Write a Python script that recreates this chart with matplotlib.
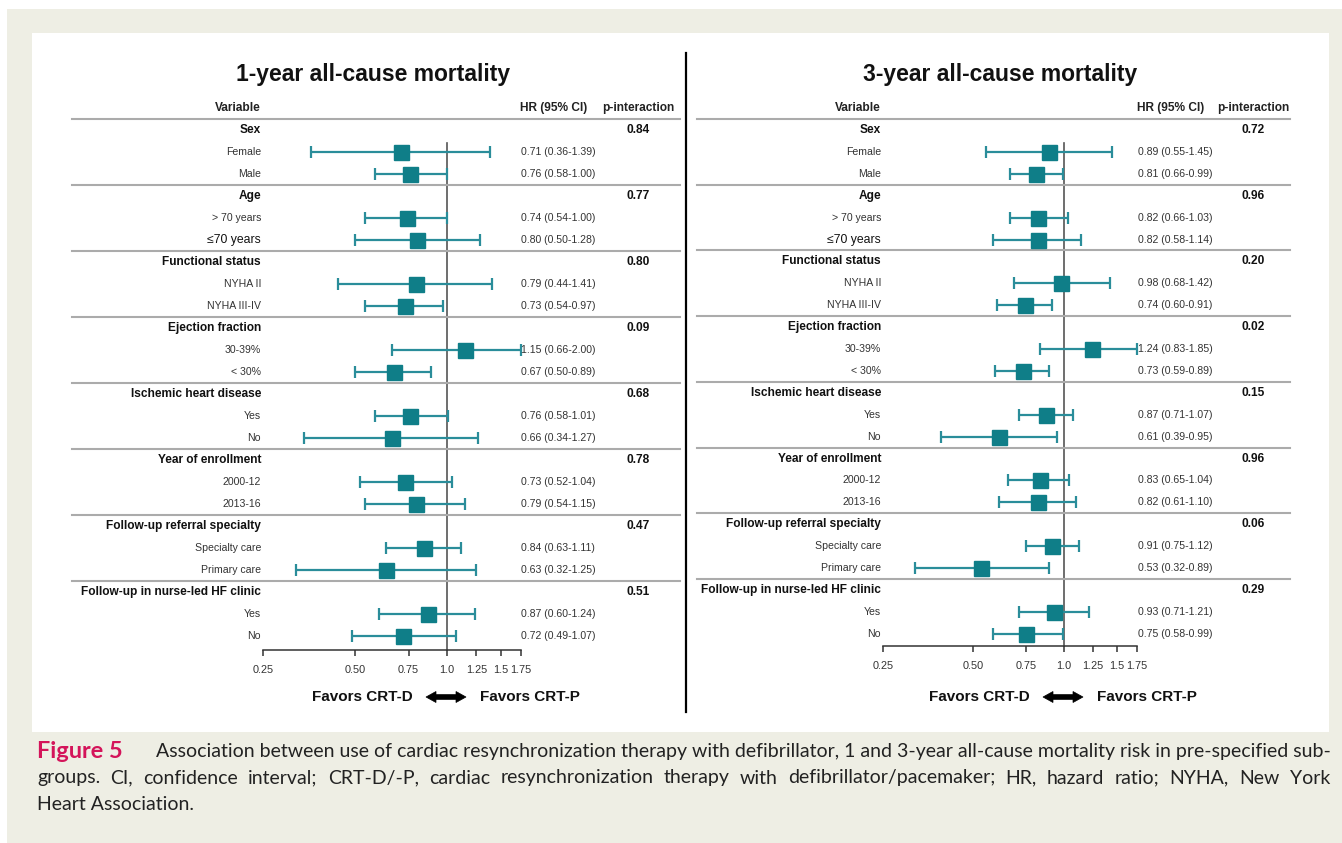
import matplotlib
matplotlib.use("Agg")
import matplotlib.pyplot as plt
import matplotlib.transforms as mtransforms
from matplotlib.patches import Rectangle, Polygon
from matplotlib.lines import Line2D
from matplotlib.ticker import NullLocator, FixedLocator, FixedFormatter

W, H = 1342, 843

# ---------------- data ----------------
groups = ["Sex", "Age", "Functional status", "Ejection fraction",
          "Ischemic heart disease", "Year of enrollment",
          "Follow-up referral specialty", "Follow-up in nurse-led HF clinic"]
subgroups = ["Female", "Male",
             "> 70 years", "\u226470 years",
             "NYHA II", "NYHA III-IV",
             "30-39%", "< 30%",
             "Yes", "No",
             "2000-12", "2013-16",
             "Specialty care", "Primary care",
             "Yes", "No"]

hr_1y = [0.71, 0.76, 0.74, 0.80, 0.79, 0.73, 1.15, 0.67,
         0.76, 0.66, 0.73, 0.79, 0.84, 0.63, 0.87, 0.72]
lo_1y = [0.36, 0.58, 0.54, 0.50, 0.44, 0.54, 0.66, 0.50,
         0.58, 0.34, 0.52, 0.54, 0.63, 0.32, 0.60, 0.49]
hi_1y = [1.39, 1.00, 1.00, 1.28, 1.41, 0.97, 2.00, 0.89,
         1.01, 1.27, 1.04, 1.15, 1.11, 1.25, 1.24, 1.07]
p_1y = ["0.84", "0.77", "0.80", "0.09", "0.68", "0.78", "0.47", "0.51"]

hr_3y = [0.89, 0.81, 0.82, 0.82, 0.98, 0.74, 1.24, 0.73,
         0.87, 0.61, 0.83, 0.82, 0.91, 0.53, 0.93, 0.75]
lo_3y = [0.55, 0.66, 0.66, 0.58, 0.68, 0.60, 0.83, 0.59,
         0.71, 0.39, 0.65, 0.61, 0.75, 0.32, 0.71, 0.58]
hi_3y = [1.45, 0.99, 1.03, 1.14, 1.42, 0.91, 1.85, 0.89,
         1.07, 0.95, 1.04, 1.10, 1.12, 0.89, 1.21, 0.99]
p_3y = ["0.72", "0.96", "0.20", "0.02", "0.15", "0.96", "0.06", "0.29"]

xticks = [0.25, 0.50, 0.75, 1.0, 1.25, 1.5, 1.75]
xtick_labels = ["0.25", "0.50", "0.75", "1.0", "1.25", "1.5", "1.75"]

caption_lead = "Figure 5"
caption_line1 = ("Association between use of cardiac resynchronization therapy with defibrillator, "
                 "1 and 3-year all-cause mortality risk in pre-specified sub-")
caption_line2 = ("groups. CI, confidence interval; CRT-D/-P, cardiac resynchronization therapy "
                 "with defibrillator/pacemaker; HR, hazard ratio; NYHA, New York")
caption_line3 = "Heart Association."

# ---------------- styles ----------------
FONT = ["Liberation Sans", "DejaVu Sans"]
CAPFONT = ["Lato", "DejaVu Sans"]
MARKER_C = "#0F7E88"
LINE_C = "#2A8D9A"
SEP_C = "#ABABAB"

plt.rcParams["font.family"] = FONT

fig = plt.figure(figsize=(13.42, 8.43), dpi=100)
fig.patch.set_facecolor("white")


def fx(px):
    return px / W


def fy(py):
    return 1 - py / H


# background frames
fig.patches.append(Rectangle((fx(7), 0), 1 - fx(7), fy(9), transform=fig.transFigure,
                             facecolor="#EEEEE4", edgecolor="none", zorder=-10))
fig.patches.append(Rectangle((fx(32), fy(732)), fx(1329) - fx(32), fy(33) - fy(732),
                             transform=fig.transFigure, facecolor="white",
                             edgecolor="none", zorder=-9))

# divider
fig.add_artist(Line2D([fx(686), fx(686)], [fy(53), fy(712)], transform=fig.transFigure,
                      color="black", lw=1.6))


def double_arrow(xc, yc, half_len=20, body=2.4, head_h=5.5, head_l=10):
    pts = [(-half_len, 0), (-half_len + head_l, head_h), (-half_len + head_l, body),
           (half_len - head_l, body), (half_len - head_l, head_h), (half_len, 0),
           (half_len - head_l, -head_h), (half_len - head_l, -body),
           (-half_len + head_l, -body), (-half_len + head_l, -head_h)]
    poly = Polygon([(fx(xc + px), fy(yc + py)) for px, py in pts], closed=True,
                   transform=fig.transFigure, facecolor="black", edgecolor="black",
                   lw=0.5)
    fig.add_artist(poly)


def panel(title, hr, lo, hi, pvals, c):
    top_px, bot_px = c["top"], c["bot"]
    row0, dy = c["row0"], c["dy"]
    ax = fig.add_axes([fx(c["x025"]), fy(bot_px), fx(c["x175"]) - fx(c["x025"]),
                       fy(top_px) - fy(bot_px)])
    ax.set_xscale("log")
    ax.set_xlim(0.25, 1.75)
    ax.set_ylim((bot_px - row0) / dy, (top_px - row0) / dy)
    ax.patch.set_alpha(0)
    for s in ["top", "right", "left"]:
        ax.spines[s].set_visible(False)
    ax.spines["bottom"].set_color("#333333")
    ax.spines["bottom"].set_linewidth(1.1)
    ax.xaxis.set_major_locator(FixedLocator(xticks))
    ax.xaxis.set_major_formatter(FixedFormatter(xtick_labels))
    ax.xaxis.set_minor_locator(NullLocator())
    ax.tick_params(axis="x", direction="out", length=4, width=1.1, color="#333333",
                   labelsize=7.8, labelcolor="#333333", pad=7)
    ax.set_yticks([])

    tr = mtransforms.blended_transform_factory(fig.transFigure, ax.transData)

    # reference line
    ax.plot([1.0, 1.0], [0.6, (bot_px - row0) / dy], color="#555555", lw=1.2,
            clip_on=False, zorder=1)

    # header
    ax.text(fx(c["label_x"]), -1, "Variable", transform=tr, ha="right", va="center",
            fontsize=8.6, fontweight="bold", color="#222222")
    ax.text(fx(c["hr_x"] - 1), -1, "HR (95% CI)", transform=tr, ha="left", va="center",
            fontsize=8.6, fontweight="bold", color="#222222")
    ax.text(fx(c["p_x"]), -1, "p-interaction", transform=tr, ha="center", va="center",
            fontsize=8.6, fontweight="bold", color="#222222")
    ax.add_line(Line2D([fx(c["l0"]), fx(c["l1"])], [-0.5, -0.5], transform=tr,
                       color=SEP_C, lw=1.5, clip_on=False))

    # title
    fig.text(fx(c["title_x"]), fy(74), title, ha="center", va="center",
             fontsize=16.5, fontweight="bold", color="#111111")

    for g, gname in enumerate(groups):
        yg = 3 * g
        ax.text(fx(c["label_x"]), yg, gname, transform=tr, ha="right", va="center",
                fontsize=8.6, fontweight="bold", color="#111111")
        ax.text(fx(c["p_x"]), yg, pvals[g], transform=tr, ha="center", va="center",
                fontsize=8.6, fontweight="bold", color="#111111")
        if g < len(groups) - 1:
            ax.add_line(Line2D([fx(c["l0"]), fx(c["l1"])], [yg + 2.5, yg + 2.5],
                               transform=tr, color=SEP_C, lw=1.5, clip_on=False))
        for k in range(2):
            i = 2 * g + k
            y = yg + 1 + k
            lab = subgroups[i]
            big = lab.startswith("\u2264")
            ax.text(fx(c["label_x"]), y, lab, transform=tr, ha="right", va="center",
                    fontsize=8.8 if big else 7.6, color="#111111" if big else "#333333")
            ax.text(fx(c["hr_x"]), y,
                    "%.2f (%.2f-%.2f)" % (hr[i], lo[i], hi[i]),
                    transform=tr, ha="left", va="center", fontsize=7.6, color="#333333")
            up = min(hi[i], 1.75)
            ax.errorbar([hr[i]], [y], xerr=[[hr[i] - lo[i]], [up - hr[i]]],
                        fmt="none", ecolor=LINE_C, elinewidth=1.6, capsize=4.3,
                        capthick=1.6, clip_on=False, zorder=2)
            ax.plot([hr[i]], [y], marker="s", markersize=10.8, color=MARKER_C,
                    markeredgecolor=MARKER_C, linestyle="none", clip_on=False, zorder=3)

    # favors
    x1 = c["x1"]
    fig.text(fx(x1 - 34), fy(697), "Favors CRT-D", ha="right", va="center",
             fontsize=11, fontweight="bold", color="#111111")
    fig.text(fx(x1 + 33), fy(697), "Favors CRT-P", ha="left", va="center",
             fontsize=11, fontweight="bold", color="#111111")
    double_arrow(x1 - 1, 697)
    return ax


cfg_left = dict(x025=263, x175=521, x1=447, top=97, bot=650, row0=130, dy=22.0,
                label_x=261, hr_x=521, p_x=638, l0=72, l1=680, title_x=373)
cfg_right = dict(x025=883, x175=1137, x1=1064, top=97.2, bot=646, row0=130, dy=21.9,
                 label_x=881, hr_x=1138, p_x=1253, l0=697, l1=1290, title_x=1000)

panel("1-year all-cause mortality", hr_1y, lo_1y, hi_1y, p_1y, cfg_left)
panel("3-year all-cause mortality", hr_3y, lo_3y, hi_3y, p_3y, cfg_right)

# ---------------- caption ----------------
renderer = fig.canvas.get_renderer()
CAP_C = "#222222"


def width_of(t):
    return t.get_window_extent(renderer).width


# fit font size to first line width
fs = 13.0
t1 = fig.text(fx(156), fy(751), caption_line1, ha="left", va="center",
              fontsize=fs, family=CAPFONT, color=CAP_C)
w = width_of(t1)
fs = fs * (1330 - 156) / w
t1.set_fontsize(fs)

fig.text(fx(37), fy(751), caption_lead, ha="left", va="center", fontsize=fs * 1.2,
         fontweight="bold", family=CAPFONT, color="#D4145A")

# justified line 2
words = caption_line2.split(" ")
tws = []
for wd in words:
    t = fig.text(0, fy(778), wd, ha="left", va="center", fontsize=fs,
                 family=CAPFONT, color=CAP_C)
    tws.append((t, width_of(t)))
total = sum(wv for _, wv in tws)
gap = (1330 - 37 - total) / (len(words) - 1)
xc = 37
for t, wv in tws:
    t.set_x(fx(xc))
    xc += wv + gap

fig.text(fx(37), fy(805), caption_line3, ha="left", va="center", fontsize=fs,
         family=CAPFONT, color=CAP_C)

fig.savefig("out.png", dpi=100, facecolor=fig.get_facecolor())
